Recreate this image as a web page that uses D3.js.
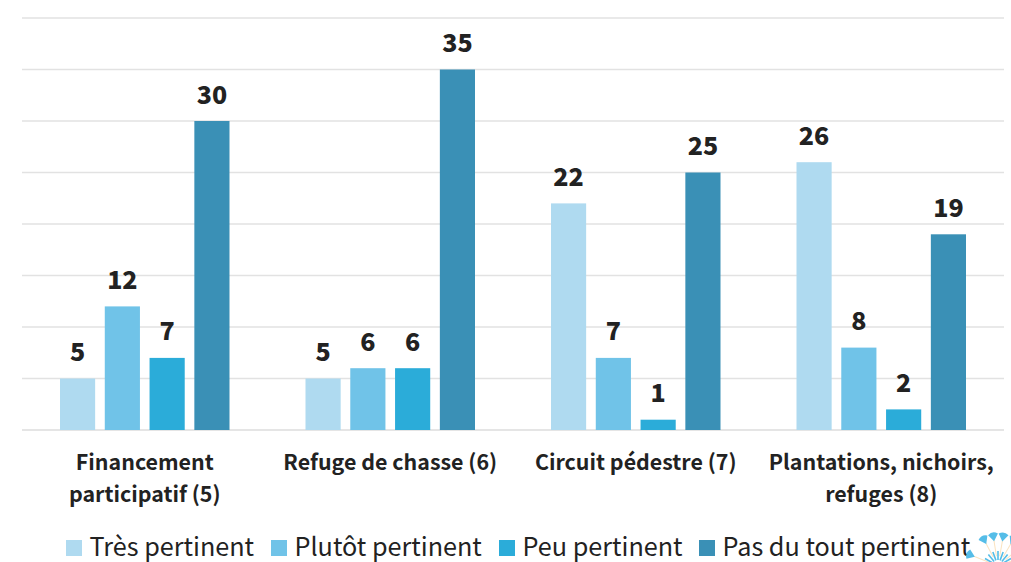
<!DOCTYPE html>
<html><head><meta charset="utf-8">
<style>html,body{margin:0;padding:0;background:#fff}svg{display:block}text{font-family:"Noto Sans CJK SC","Noto Sans",sans-serif;fill:#222}</style>
<script src="https://cdn.jsdelivr.net/npm/d3@7"></script></head><body><svg id="c" width="1011" height="562"></svg>
<script>
const categories=[["Financement","participatif (5)"],["Refuge de chasse (6)"],["Circuit pédestre (7)"],["Plantations, nichoirs,","refuges (8)"]];
const seriesNames=["Très pertinent","Plutôt pertinent","Peu pertinent","Pas du tout pertinent"];
const seriesColors=["#afdaf0","#70c3e8","#2bacd9","#3a90b6"];
const tresPertinent=[5,5,22,26];
const plutotPertinent=[12,6,7,8];
const peuPertinent=[7,6,1,2];
const pasDuTout=[30,35,25,19];
const allSeries=[tresPertinent,plutotPertinent,peuPertinent,pasDuTout];
const yTicks=[0,5,10,15,20,25,30,35,40];
const svg=d3.select("#c");
const x0=d3.scaleBand().domain(d3.range(categories.length)).range([22,1004]);
const x1=d3.scaleBand().domain(d3.range(4)).range([38,207.5]).paddingInner(0.215);
const y=d3.scaleLinear().domain([0,40]).range([430,18]);
svg.append("g").selectAll("line").data(yTicks).join("line")
 .attr("x1",22).attr("x2",1004).attr("y1",d=>y(d)).attr("y2",d=>y(d))
 .attr("stroke",d=>d===0?"#dcdcdc":"#e2e2e2").attr("stroke-width",1.4);
categories.forEach((c,i)=>{
 const g=svg.append("g").attr("transform",`translate(${x0(i)},0)`);
 const vals=allSeries.map(s=>s[i]);
 g.selectAll("rect").data(vals).join("rect")
  .attr("x",(d,j)=>x1(j)).attr("width",x1.bandwidth())
  .attr("y",d=>y(d)).attr("height",d=>y(0)-y(d))
  .attr("fill",(d,j)=>seriesColors[j]);
 g.selectAll("text.v").data(vals).join("text").attr("class","v")
  .attr("x",(d,j)=>x1(j)+x1.bandwidth()/2).attr("y",d=>y(d)-17.5)
  .attr("text-anchor","middle").attr("font-size",25).attr("font-weight",900).text(d=>d);
 c.forEach((line,k)=>{
  svg.append("text").attr("x",x0(i)+x0.bandwidth()/2).attr("y",470+k*32)
   .attr("text-anchor","middle").attr("font-size",21.4).attr("font-weight",700).text(line);
 });
});
const legendX=[66,271,499,699];
seriesNames.forEach((n,i)=>{
 svg.append("rect").attr("x",legendX[i]).attr("y",540).attr("width",16).attr("height",16).attr("fill",seriesColors[i]);
 svg.append("text").attr("x",legendX[i]+23.5).attr("y",556).attr("font-size",25.2).text(n);
});
// logo (decorative dandelion)
const petals=[-158,-118,-99,-80,-60,-40,-20];
const logo=svg.append("g").attr("transform","translate(998,566)");
petals.forEach(a=>{
 const g=logo.append("g").attr("transform",`rotate(${a})`);
 g.append("line").attr("x1",10).attr("x2",26).attr("stroke","#fbe3c0").attr("stroke-width",1);
 g.append("path").attr("d","M25 0L32 -5Q36 0 32 5Z").attr("fill","#55bde8");
});
[-170,-150,-130,-110,-90,-70,-50,-30,-10].forEach(a=>{
 logo.append("line").attr("transform",`rotate(${a})`).attr("x1",6).attr("x2",15).attr("stroke","#55bde8").attr("stroke-width",1.6);
});
</script></body></html>
